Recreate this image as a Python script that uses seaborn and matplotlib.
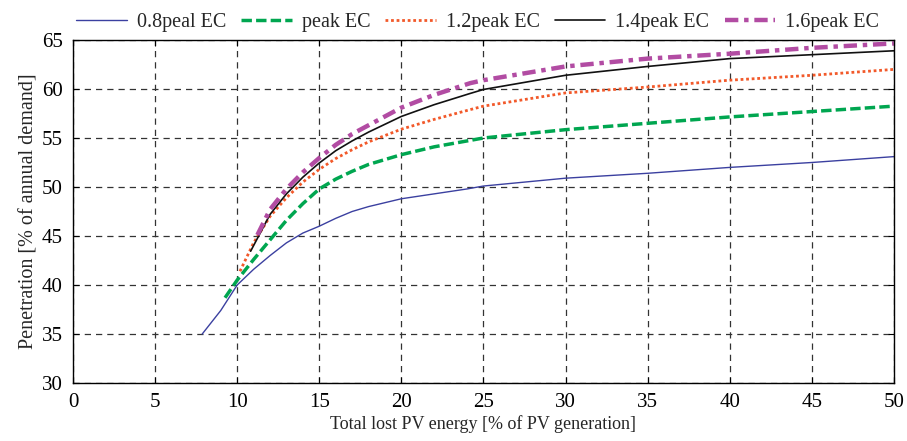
import matplotlib
matplotlib.use("Agg")
import matplotlib.pyplot as plt
import seaborn as sns
import pandas as pd

# Data
x_08 = [7.87, 9.0, 10.0, 11.0, 12.0, 13.0, 14.0, 15.0, 16.0, 17.0, 18.0, 20.0, 22.0, 24.0, 25.0, 30.0, 35.0, 40.0, 45.0, 50.0]
y_08 = [35.0, 37.4, 40.0, 41.6, 43.0, 44.3, 45.3, 46.0, 46.8, 47.5, 48.0, 48.8, 49.3, 49.8, 50.1, 50.9, 51.4, 52.0, 52.5, 53.1]

x_10 = [9.26, 10.0, 11.0, 12.0, 13.0, 14.0, 15.0, 16.0, 17.0, 18.0, 20.0, 22.0, 25.0, 30.0, 35.0, 40.0, 45.0, 50.0]
y_10 = [38.7, 40.5, 42.6, 44.6, 46.6, 48.3, 49.8, 50.8, 51.6, 52.3, 53.3, 54.1, 55.0, 55.85, 56.5, 57.15, 57.7, 58.25]

x_12 = [10.17, 11.0, 12.0, 13.0, 14.0, 15.0, 16.0, 17.0, 18.0, 20.0, 22.0, 24.2, 25.0, 30.0, 35.0, 40.0, 45.0, 50.0]
y_12 = [41.4, 44.3, 47.0, 48.9, 50.5, 51.8, 52.9, 53.8, 54.6, 55.9, 56.9, 57.9, 58.25, 59.6, 60.2, 60.9, 61.4, 62.0]

x_14 = [10.82, 12.0, 13.0, 14.0, 15.0, 16.0, 17.0, 18.0, 20.0, 22.0, 24.2, 25.0, 30.0, 35.0, 40.0, 45.0, 50.0]
y_14 = [43.45, 47.2, 49.3, 51.0, 52.45, 53.7, 54.7, 55.6, 57.2, 58.4, 59.55, 59.95, 61.4, 62.3, 63.1, 63.5, 63.9]

x_16 = [11.23, 12.0, 13.0, 14.0, 15.0, 16.0, 17.0, 18.0, 20.0, 22.0, 24.2, 25.0, 30.0, 35.0, 40.0, 45.0, 50.0]
y_16 = [45.1, 47.7, 49.8, 51.5, 52.96, 54.3, 55.4, 56.3, 58.1, 59.4, 60.6, 60.9, 62.3, 63.1, 63.6, 64.2, 64.65]

labels = ["0.8peal EC", "peak EC", "1.2peak EC", "1.4peak EC", "1.6peak EC"]
xticks = [0, 5, 10, 15, 20, 25, 30, 35, 40, 45, 50]
yticks = [30, 35, 40, 45, 50, 55, 60, 65]

sns.set_style("ticks")
plt.rcParams['font.family'] = ['Liberation Serif', 'DejaVu Serif']

fig = plt.figure(figsize=(9.07, 4.41), dpi=100)
ax = fig.add_axes([0.0805, 0.1315, 0.905, 0.7778])

series = [
    (x_08, y_08, "#3b40a0", "-", 1.0),
    (x_10, y_10, "#00a650", (0, (3.0, 1.2)), 2.5),
    (x_12, y_12, "#f2592a", (0, (1.0, 1.0)), 2.0),
    (x_14, y_14, "#111111", "-", 1.2),
    (x_16, y_16, "#b24ca3", (0, (3.0, 1.3, 1.0, 1.3)), 3.2),
]
for (xs, ys, c, ls, lw), lab in zip(series, labels):
    df = pd.DataFrame({"x": xs, "y": ys})
    sns.lineplot(data=df, x="x", y="y", ax=ax, color=c, linestyle=ls,
                 linewidth=lw, label=lab, sort=False, estimator=None)

ax.set_xlim(0, 50)
ax.set_ylim(30, 65)
ax.set_xticks(xticks)
ax.set_yticks(yticks)
ax.tick_params(direction="in", length=4, labelsize=15, top=True, right=True, colors="black")
ax.tick_params(axis="x", pad=7.5)
ax.tick_params(axis="y", pad=7.5)
ax.grid(True, color="#333333", linestyle=(0, (5, 4)), linewidth=0.9)
for sp in ax.spines.values():
    sp.set_color("black")
    sp.set_linewidth(1.0)
ax.set_xlabel("Total lost PV energy [% of PV generation]", fontsize=13, labelpad=2)
ax.set_ylabel("Penetration [% of annual demand]", fontsize=14.5, labelpad=2)

ax.legend(loc="lower center", bbox_to_anchor=(0.493, 1.0), ncol=5, frameon=False,
          fontsize=14.5, handlelength=2.5, columnspacing=0.75, handletextpad=0.5,
          borderaxespad=0.1, borderpad=0.3)

fig.savefig("out.png", dpi=100)
